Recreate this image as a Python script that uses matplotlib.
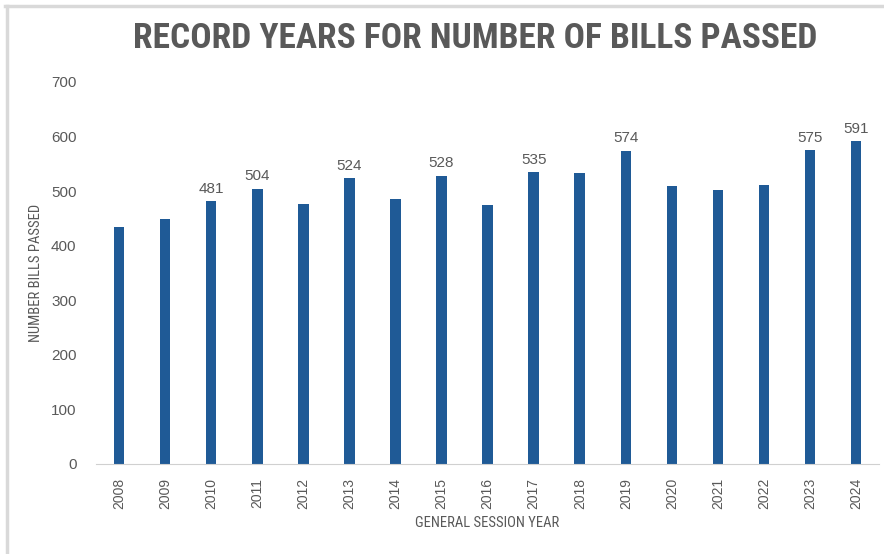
import matplotlib.pyplot as plt
from matplotlib.lines import Line2D

years = [str(y) for y in range(2008, 2025)]
bills = [435, 449, 481, 504, 477, 524, 486, 528, 475, 535, 533, 574, 510, 502, 511, 575, 591]
# only the record years get a value label
labeled = ['2010', '2011', '2013', '2015', '2017', '2019', '2023', '2024']

plt.rcParams['font.family'] = ['Liberation Sans', 'DejaVu Sans']
narrow = ['Roboto Condensed', 'Liberation Sans']

gray = '#595959'
bar_color = '#1f5a96'

fig = plt.figure(figsize=(8.84, 5.54), dpi=100)
ax = fig.add_axes([0.1086, 0.1625, 0.886, 0.6895])

x = range(len(years))
ax.bar(x, bills, width=0.23, color=bar_color)

for i, (yr, v) in enumerate(zip(years, bills)):
    if yr in labeled:
        ax.text(i, v + 10, str(v), ha='center', va='bottom', fontsize=11, color=gray)

ax.set_xlim(-0.5, len(years) - 0.5)
ax.set_ylim(0, 700)
ax.set_yticks(range(0, 701, 100))
ax.set_xticks(list(x))
ax.set_xticklabels(years, rotation=90, fontsize=10, color=gray)
ax.tick_params(axis='y', labelsize=11, labelcolor=gray, length=0, pad=14)
ax.tick_params(axis='x', length=0, pad=10)

for side in ['top', 'right', 'left']:
    ax.spines[side].set_visible(False)
ax.spines['bottom'].set_color('#d0d0d0')

ax.set_ylabel('NUMBER BILLS PASSED', fontsize=10.5, color=gray, family=narrow, labelpad=6)
ax.set_xlabel('GENERAL SESSION YEAR', fontsize=10.5, color=gray, family=narrow, labelpad=5)

fig.text(0.537, 0.93, 'RECORD YEARS FOR NUMBER OF BILLS PASSED', ha='center', va='center',
         fontsize=25.5, fontweight='bold', color=gray, family=narrow)

# light frame on the left and top of the chart box
fig.add_artist(Line2D([0.008, 0.008], [0.0, 0.99], color='#d9d9d9', lw=2.5))
fig.add_artist(Line2D([0.006, 1.0], [0.99, 0.99], color='#d9d9d9', lw=2.5))

fig.savefig('out.png', dpi=100)
